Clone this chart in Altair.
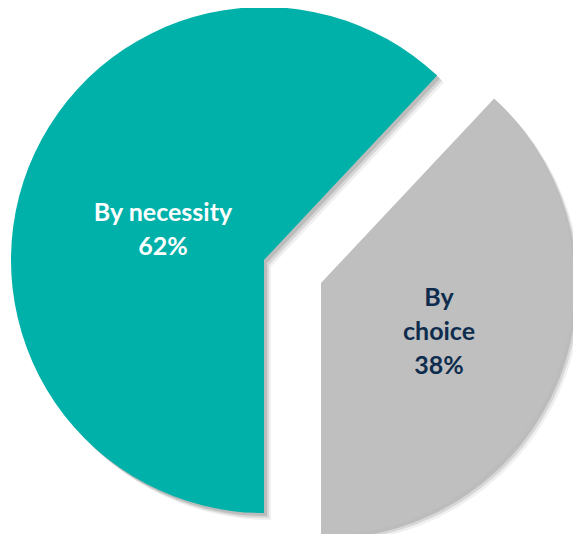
import math
import altair as alt
import pandas as pd

# ---- data ----
categories = ["By choice", "By necessity"]
values = [38, 62]
labels = ["By\nchoice\n38%", "By necessity\n62%"]
order = [0, 1]

# ---- style ----
slice_colors = ["#BFBFBF", "#00B1A9"]
text_colors = ["#0E2D4E", "#FFFFFF"]
R = 253
centers = [(313, 275), (256, 252)]          # exploded "choice" slice, main slice
label_offsets = [(118, 15), (-101, -47)]     # first label line offset from slice centre

df = pd.DataFrame({"category": categories, "value": values, "label": labels, "order": order})
total = sum(values)
start = math.pi - 2 * math.pi * values[0] / total
theta_scale = alt.Scale(domain=[0, total], range=[start, start + 2 * math.pi])

base = (
    alt.Chart(df)
    .transform_window(cum="sum(value)", sort=[alt.SortField("order")])
    .transform_calculate(start="datum.cum - datum.value")
)

layers = []
# soft shadows
for i in range(2):
    cx, cy = centers[i]
    b = base.transform_filter(alt.datum.order == i)
    for off, op in [(7, 0.06), (5, 0.1), (3, 0.12)]:
        layers.append(
            b.mark_arc(radius=R, color="#000000", opacity=op).encode(
                theta=alt.Theta("start:Q", scale=theta_scale),
                theta2="cum:Q",
                x=alt.value(cx + off),
                y=alt.value(cy + off),
            )
        )
for i in range(2):
    cx, cy = centers[i]
    b = base.transform_filter(alt.datum.order == i)
    layers.append(
        b.mark_arc(radius=R, color=slice_colors[i]).encode(
            theta=alt.Theta("start:Q", scale=theta_scale),
            theta2="cum:Q",
            x=alt.value(cx),
            y=alt.value(cy),
        )
    )
for i in range(2):
    cx, cy = centers[i]
    dx, dy = label_offsets[i]
    b = base.transform_filter(alt.datum.order == i)
    layers.append(
        b.mark_text(
            font="Lato",
            fontWeight="bold",
            fontSize=25,
            lineBreak="\n",
            lineHeight=34,
            align="center",
            baseline="middle",
            color=text_colors[i],
            dx=dx,
            dy=dy,
        ).encode(text="label:N", x=alt.value(cx), y=alt.value(cy))
    )

chart = (
    alt.layer(*layers)
    .properties(width=565, height=526, padding=0, autosize="none")
    .configure_view(stroke=None)
)

chart.save("out.html", embed_options={"renderer": "svg", "actions": False})
